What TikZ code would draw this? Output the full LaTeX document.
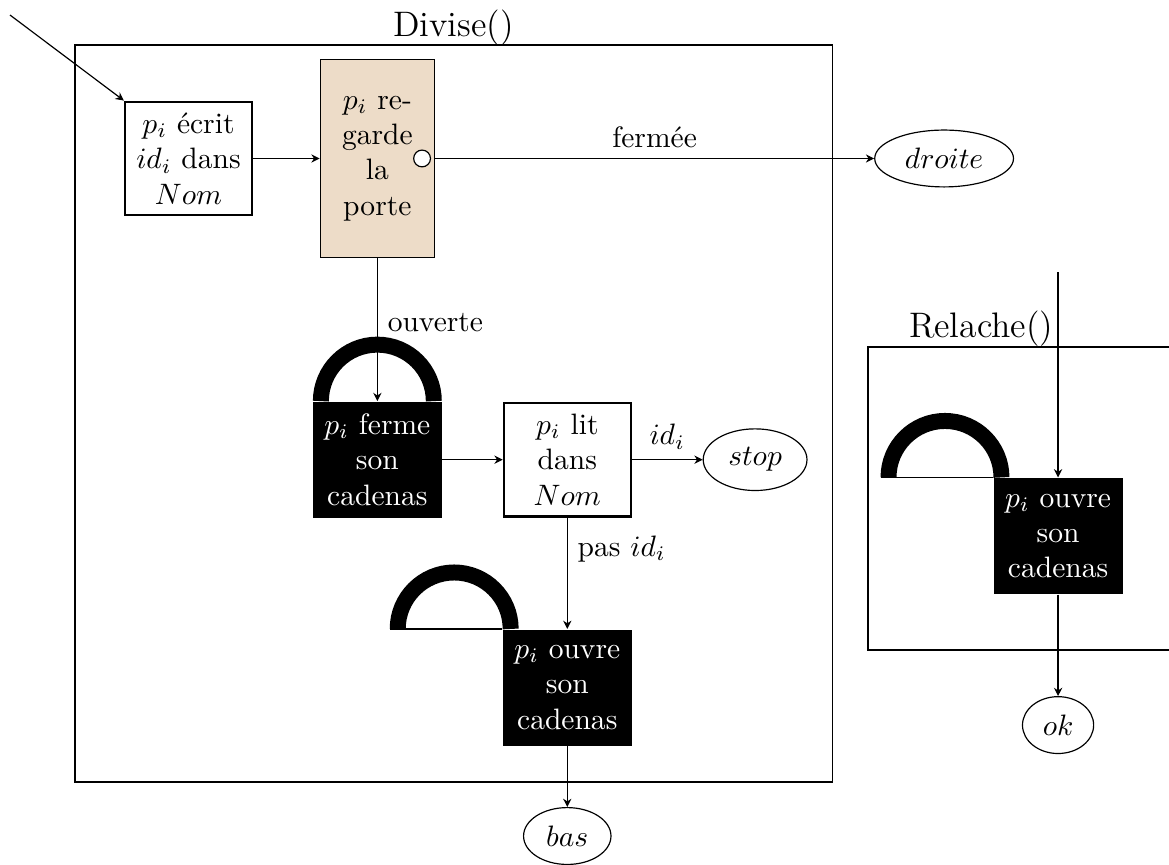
\documentclass[tikz,border=0pt]{standalone}
\usepackage{fontspec}
\usepackage{amsmath}
\usetikzlibrary{shapes.geometric,arrows.meta}
\definecolor{portefond}{RGB}{237,220,200}

\begin{document}
\begin{tikzpicture}[font=\normalsize, >={Stealth[length=2.8pt,width=2.8pt,inset=0.9pt]},
	boite/.style={draw=black,thick,align=center,minimum width=1.51cm,minimum height=1.35cm,inner sep=1pt},
	porte/.style={draw=black,fill=portefond,align=center,minimum width=1.36cm,minimum height=2.36cm,inner sep=1pt},
	cadenas/.style={fill=black,text=white,align=center,minimum width=1.535cm,minimum height=1.38cm,inner sep=1pt},
	anse/.style={line width=0.19cm},
	sortie/.style={shape=ellipse,draw=black}]
	\useasboundingbox (0,0) rectangle (13.91,-10.29);
	% Divise()
	\draw (0.893,-0.536) rectangle (9.901,-9.306);
	\node[font=\large,anchor=base] (divise) at (5.397,-0.44) {Divise()};
	\coordinate (entree) at (0.119,-0.179);
	\node[boite] (ecrit) at (2.243,-1.886) {$p_i$ écrit\\$id_i$ dans\\$Nom$};
	\node[porte] (regarde) at (4.49,-1.886) {$p_i$ re-\\garde\\la\\porte};
	\node[shape=circle,draw=black,fill=white,inner sep=0pt,minimum size=0.2cm] (trou) at ([xshift=-0.155cm]regarde.east) {};
	\node[sortie] (droite) at (11.234,-1.886) {$droite$};
	\node[cadenas] (ferme) at (4.49,-5.47) {$p_i$ ferme\\son\\cadenas};
	\draw[anse] ([xshift=0.672cm]ferme.north) arc (0:180:0.672cm);
	\node[boite] (lit) at (6.75,-5.47) {$p_i$ lit\\dans\\$Nom$};
	\node[sortie] (stop) at (8.985,-5.47) {$stop$};
	\node[cadenas] (ouvre) at (6.75,-8.181) {$p_i$ ouvre\\son\\cadenas};
	\draw ([xshift=-1.338cm]ouvre.north west) -- (ouvre.north west);
	\draw[anse] ([xshift=0.101cm]ouvre.north west) arc (0:180:0.672cm);
	\node[sortie] (bas) at (6.75,-9.948) {$bas$};
	\draw [->] (entree) to (ecrit.north west);
	\draw [->] (ecrit) to (regarde);
	\draw [->] (regarde.east) to node[above] {fermée} (droite);
	\draw [->] (regarde) to node[right,pos=0.45] {ouverte} (ferme);
	\draw [->] (ferme) to (lit);
	\draw [->] (lit) to node[above] {$id_i$} (stop);
	\draw [->] (lit) to node[right,pos=0.28] {pas $id_i$} (ouvre);
	\draw [->] (ouvre) to (bas);
	% Relache()
	\draw (10.329,-4.129) rectangle (15.5,-7.735);
	\node[font=\large,anchor=base] (relache) at (11.674,-4.022) {Relache()};
	\coordinate (entree2) at (12.59,-3.237);
	\node[cadenas] (ouvre2) at (12.59,-6.378) {$p_i$ ouvre\\son\\cadenas};
	\draw ([xshift=-1.338cm]ouvre2.north west) -- (ouvre2.north west);
	\draw[anse] ([xshift=0.101cm]ouvre2.north west) arc (0:180:0.672cm);
	\node[sortie] (ok) at (12.59,-8.628) {$ok$};
	\draw [->] (entree2) to (ouvre2);
	\draw [->] (ouvre2) to (ok);
\end{tikzpicture}
\end{document}
